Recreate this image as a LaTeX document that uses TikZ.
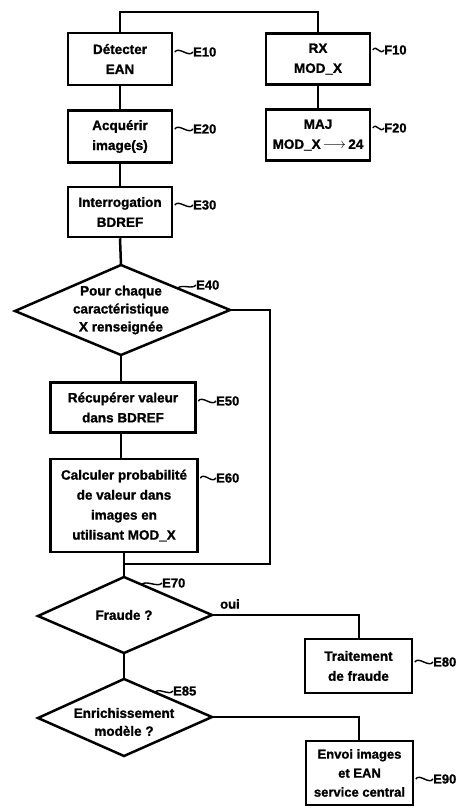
\documentclass[tikz,border=0pt]{standalone}
\usepackage{fontspec}
\setmainfont{Liberation Sans}
\newfontfamily\hvy[FakeBold=1.2]{Liberation Sans Bold}
\usetikzlibrary{calc}
\begin{document}
\begin{tikzpicture}[x=1pt,y=-1pt,
  box/.style={draw, line width=2.5pt, align=center, inner sep=0pt, font=\hvy\fontsize{13.5}{20}\selectfont},
  dtxt/.style={align=center, inner sep=0pt, font=\hvy\fontsize{13.5}{18}\selectfont},
  lab/.style={anchor=west, inner sep=0pt, font=\hvy\fontsize{13}{14}\selectfont},
  ln/.style={line width=2.5pt},
  leader/.style={line width=1.4pt}]
\useasboundingbox (0,0) rectangle (459,809);

% left column boxes
\node[box, minimum width=104, minimum height=52] (b10) at (120,59) {Détecter\\EAN};
\node[box, minimum width=104, minimum height=52] (b20) at (120,136.5) {Acquérir\\image(s)};
\node[box, minimum width=104, minimum height=50] (b30) at (120,212) {Interrogation\\BDREF};
% right column boxes
\node[box, minimum width=104, minimum height=51] (f10) at (318,59) {RX\\MOD\_X};
\node[box, minimum width=104, minimum height=51] (f20) at (318,135) {MAJ\\MOD\_X\,$\longrightarrow$\,24};

\coordinate (top) at (219,12);
\draw[ln] (b10.north) |- (top) -| (f10.north);
\draw[ln] (b10) -- (b20);
\draw[ln] (b20) -- (b30);
\draw[ln] (f10) -- (f20);

% diamond E40
\coordinate (d40t) at (121,265);
\coordinate (d40r) at (230,310);
\coordinate (d40b) at (121,355);
\coordinate (d40l) at (15,311);
\draw[ln, line join=miter] (d40t) -- (d40r) -- (d40b) -- (d40l) -- cycle;
\node[dtxt] (t40) at (121,310) {Pour chaque\\caractéristique\\X renseignée};
\draw[ln] (b30.south) -- (d40t);

\node[box, minimum width=145, minimum height=50] (b50) at (123,407.5) {Récupérer valeur\\dans BDREF};
\node[box, minimum width=147, minimum height=93] (b60) at (124,505.5) {Calculer probabilité\\de valeur dans\\images en\\utilisant MOD\_X};
\draw[ln] (d40b) -- (b50.north -| d40b);
\draw[ln] (b50.south -| d40b) -- (b60.north -| d40b);

% Fraude diamond
\coordinate (d70t) at (124,577);
\coordinate (d70r) at (212,615);
\coordinate (d70b) at (124,653);
\coordinate (d70l) at (38,616);
\draw[ln, line join=miter] (d70t) -- (d70r) -- (d70b) -- (d70l) -- cycle;
\node[dtxt] (t70) at (124,615) {Fraude ?};
\draw[ln] (b60.south -| d70t) -- (d70t);

% loop
\coordinate (la) at (270,310);
\coordinate (lb) at (270,564);
\coordinate (lc) at (124,564);
\draw[ln] (d40r) -- (la) -- (lb) -- (lc);

% Enrichissement diamond
\coordinate (d85t) at (124,679);
\coordinate (d85r) at (212,717);
\coordinate (d85b) at (124,756);
\coordinate (d85l) at (38,718);
\draw[ln, line join=miter] (d85t) -- (d85r) -- (d85b) -- (d85l) -- cycle;
\node[dtxt] (t85) at (124,722) {Enrichissement\\modèle ?};
\draw[ln] (d70b) -- (d85t);

% right lower boxes
\node[box, minimum width=107, minimum height=54] (b80) at (358.5,666) {Traitement\\de fraude};
\node[box, minimum width=107, minimum height=64, font=\hvy\fontsize{13}{19}\selectfont] (b90) at (359.5,773) {Envoi images\\et EAN\\service central};
\coordinate (c80) at (359,615);
\coordinate (c90) at (359,717);
\draw[ln] (d70r) -- (c80) -- (c80 |- b80.north);
\draw[ln] (d85r) -- (c90) -- (c90 |- b90.north);
\node[lab] (oui) at (220,604) {oui};

% labels
\node[lab] (l10) at (193,52) {E10};
\node[lab] (l20) at (193,129) {E20};
\node[lab] (l30) at (193,205) {E30};
\node[lab] (lf10) at (384,50) {F10};
\node[lab] (lf20) at (384,128) {F20};
\node[lab] (l40) at (196,285) {E40};
\node[lab] (l50) at (216,401) {E50};
\node[lab] (l60) at (216,478) {E60};
\node[lab] (l70) at (162,583) {E70};
\node[lab] (l80) at (433,662) {E80};
\node[lab] (l85) at (173,691) {E85};
\node[lab] (l90) at (433,779) {E90};

\coordinate (s40) at ($(d40t)!0.52!(d40r)$);
\coordinate (s70) at ($(d70t)!0.2!(d70r)$);
\coordinate (s85) at ($(d85t)!0.35!(d85r)$);

\foreach \b/\l in {b10/l10, b20/l20, b30/l30, f10/lf10, f20/lf20, b50/l50, b60/l60, b80/l80, b90/l90}{
  \draw[leader] (\b.east |- \l.west) ++(1.5,0) .. controls +(4,-6) and +(-4,6) .. (\l.west);
}
\foreach \s/\l in {s40/l40, s70/l70, s85/l85}{
  \draw[leader] (\s) .. controls +(4,-5) and +(-4,5) .. (\l.west);
}
\end{tikzpicture}
\end{document}
